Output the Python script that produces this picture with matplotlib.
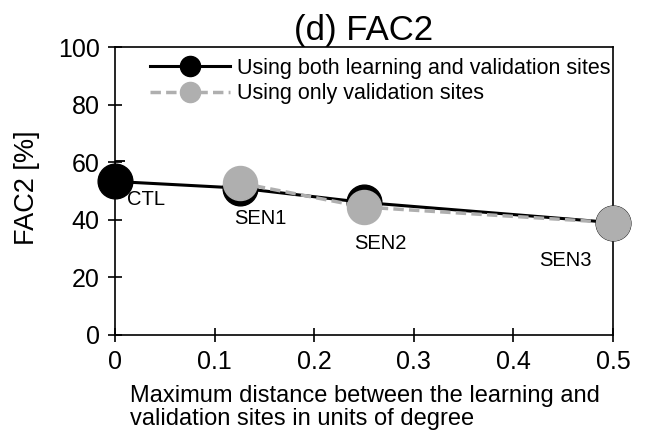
import matplotlib.pyplot as plt
from matplotlib.lines import Line2D

plt.rcParams['font.family'] = ['Liberation Sans', 'DejaVu Sans']

# data
x_both = [0, 0.125, 0.25, 0.5]
fac2_both = [53.3, 51.0, 46.0, 39.0]
err_low = [0, 0, 0, 0]
err_high = [7.0, 0, 0, 0]
x_val = [0.125, 0.25, 0.5]
fac2_val = [52.8, 44.4, 39.0]
case_names = ["CTL", "SEN1", "SEN2", "SEN3"]
legend_labels = ["Using both learning and validation sites", "Using only validation sites"]

# label placement (data coords)
label_xy = [(0.012, 46.9), (0.146, 40.6), (0.266, 31.9), (0.452, 26.0)]
label_ha = ["left", "center", "center", "center"]

GRAY = "#afafaf"

fig = plt.figure(figsize=(6.46, 4.4), dpi=100)
ax = fig.add_axes([0.178, 0.239, 0.771, 0.654])

h1 = ax.errorbar(x_both, fac2_both, yerr=[err_low, err_high], color="black", lw=2.2,
                 marker="o", ms=25, capsize=7, elinewidth=1.3, capthick=1.3,
                 zorder=3)
h1.lines[0].set_clip_on(False)
ax.plot(x_val, fac2_val, color=GRAY, lw=2.5, ls=(0, (3, 1.5)),
        marker="o", ms=24.5, zorder=4, clip_on=False)

for name, (tx, ty), ha in zip(case_names, label_xy, label_ha):
    ax.text(tx, ty, name, fontsize=14.5, ha=ha, va="center")

ax.set_xlim(0, 0.5)
ax.set_ylim(0, 100)
ax.set_xticks([0, 0.1, 0.2, 0.3, 0.4, 0.5])
ax.set_xticklabels(["0", "0.1", "0.2", "0.3", "0.4", "0.5"])
ax.set_yticks([0, 20, 40, 60, 80, 100])
ax.tick_params(direction="inout", length=10, width=1.2, labelsize=18, pad=6)
for s in ax.spines.values():
    s.set_linewidth(1.2)

ax.set_title("(d) FAC2", fontsize=25, pad=1)
ax.set_ylabel("FAC2 [%]", fontsize=19.5)
ax.yaxis.set_label_coords(-0.15, 0.51)
fig.text(130 / 646, 1 - 385 / 440,
         "Maximum distance between the learning and\nvalidation sites in units of degree",
         fontsize=17, ha="left", va="top", linespacing=1.08)

# legend handles without the error bar cap
handles = [
    Line2D([], [], color="black", lw=2.2, marker="o", ms=14.5),
    Line2D([], [], color=GRAY, lw=2.5, ls=(0, (3, 1.5)), marker="o", ms=14.5),
]
ax.legend(handles, legend_labels,
          loc="upper left", bbox_to_anchor=(0.07, 0.962), frameon=False,
          borderpad=0, borderaxespad=0,
          fontsize=15.5, handlelength=3.7,
          labelspacing=0.2, handletextpad=0.33)

fig.savefig("out.png", dpi=100)
